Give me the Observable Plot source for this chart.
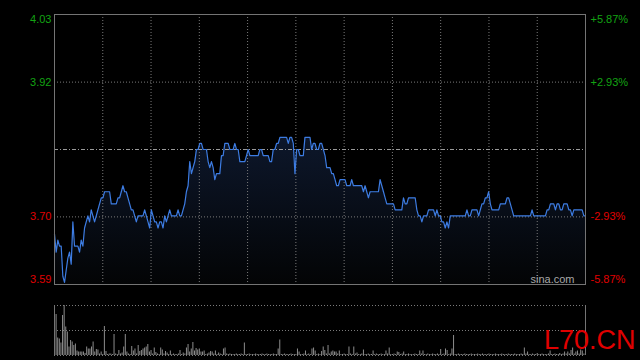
<!DOCTYPE html>
<html><head><meta charset="utf-8">
<script src="https://cdn.jsdelivr.net/npm/d3@7"></script>
<script src="https://cdn.jsdelivr.net/npm/@observablehq/plot@0.6"></script>
<style>
html,body{margin:0;padding:0;background:#000;}
#chart{position:relative;width:640px;height:360px;overflow:hidden;background:#000;font-family:"Liberation Sans",Arial,sans-serif;}
#chart svg{display:block;}
#wm{position:absolute;left:544px;top:327px;font-size:27px;line-height:27px;color:#e00000;white-space:nowrap;font-family:"Liberation Sans",Arial,sans-serif;}
</style></head><body><div id="chart"></div>
<script>
// ---- data ----
const prevClose = 3.81;
const pctTicks = [5.87, 2.93, -2.93, -5.87];
const sessionMinutes = 330;               // HK session 9:30-12:00, 13:00-16:00
const gridMinutes = [30, 60, 90, 120, 150, 180, 210, 240, 270, 300];
const watermarkSite = "sina.com";
const watermarkBrand = "L70.CN";

// prices sampled evenly across the session
const prices = [
3.67,3.64,3.66,3.65,3.65,3.60,3.59,3.61,3.63,3.64,
3.62,3.69,3.65,3.65,3.65,3.64,3.66,3.65,3.68,3.69,
3.70,3.69,3.71,3.70,3.69,3.70,3.71,3.72,3.73,3.73,
3.74,3.74,3.74,3.74,3.72,3.72,3.72,3.72,3.73,3.73,
3.74,3.75,3.74,3.74,3.73,3.72,3.71,3.71,3.70,3.69,
3.70,3.70,3.70,3.70,3.71,3.70,3.69,3.68,3.71,3.70,
3.69,3.69,3.68,3.69,3.69,3.68,3.70,3.69,3.70,3.71,
3.70,3.70,3.70,3.70,3.71,3.70,3.70,3.71,3.72,3.74,
3.75,3.79,3.77,3.78,3.79,3.81,3.81,3.82,3.82,3.81,
3.81,3.81,3.79,3.78,3.79,3.78,3.76,3.77,3.77,3.77,
3.80,3.80,3.82,3.82,3.82,3.81,3.81,3.81,3.82,3.81,
3.81,3.79,3.79,3.79,3.79,3.80,3.81,3.80,3.80,3.80,
3.80,3.80,3.80,3.81,3.81,3.80,3.80,3.80,3.80,3.79,
3.79,3.81,3.81,3.82,3.82,3.83,3.83,3.83,3.83,3.83,
3.82,3.83,3.83,3.82,3.77,3.81,3.81,3.80,3.80,3.80,
3.83,3.83,3.83,3.83,3.81,3.82,3.82,3.81,3.81,3.82,
3.82,3.81,3.80,3.78,3.78,3.78,3.77,3.77,3.76,3.75,
3.75,3.76,3.76,3.76,3.76,3.75,3.75,3.75,3.76,3.75,
3.75,3.75,3.75,3.75,3.75,3.74,3.75,3.74,3.73,3.74,
3.74,3.74,3.74,3.74,3.74,3.76,3.75,3.74,3.73,3.72,
3.72,3.72,3.72,3.72,3.71,3.71,3.71,3.71,3.71,3.73,
3.72,3.72,3.73,3.73,3.73,3.73,3.73,3.71,3.70,3.70,
3.69,3.70,3.70,3.70,3.71,3.71,3.71,3.71,3.70,3.71,
3.70,3.70,3.69,3.69,3.68,3.69,3.68,3.70,3.70,3.70,
3.70,3.70,3.70,3.70,3.70,3.70,3.70,3.71,3.70,3.70,
3.71,3.71,3.71,3.71,3.70,3.71,3.72,3.72,3.73,3.73,
3.74,3.72,3.71,3.71,3.71,3.71,3.71,3.72,3.72,3.72,
3.72,3.73,3.73,3.72,3.71,3.70,3.70,3.70,3.70,3.70,
3.70,3.70,3.70,3.70,3.70,3.70,3.71,3.70,3.70,3.70,
3.70,3.70,3.70,3.70,3.70,3.71,3.71,3.72,3.72,3.72,
3.71,3.72,3.72,3.71,3.71,3.72,3.72,3.72,3.71,3.71,
3.70,3.71,3.71,3.71,3.71,3.71,3.71,3.70,3.70
];

// volume per minute (relative units)
const volumes = [
75,82,35,33,25,80,100,57,47,17,
30,27,20,23,9,7,7,7,7,4,
17,13,13,17,27,7,12,11,3,7,
2,58,8,2,3,3,2,42,3,2,
10,3,5,17,42,7,3,2,18,9,
13,3,20,8,10,13,15,17,22,7,
10,3,15,6,3,2,15,11,3,8,
5,2,9,2,3,2,2,3,10,2,
5,3,15,22,7,13,26,9,14,11,
13,7,7,9,2,3,5,8,7,3,
9,2,5,3,2,13,15,3,2,3,
2,2,2,3,2,2,3,2,25,2,
2,3,2,2,2,3,2,2,2,3,
2,2,3,2,2,2,3,2,2,13,
31,2,2,3,2,2,2,3,2,2,
2,13,7,2,2,3,9,2,3,2,
13,15,9,2,3,2,8,17,10,3,
20,3,7,9,7,7,3,9,2,2,
3,2,2,17,3,2,17,3,5,2,
2,3,11,2,2,3,2,2,9,2,
3,2,2,3,2,2,9,3,15,2,
2,3,2,7,6,2,3,7,2,2,
3,2,2,2,3,2,2,9,3,9,
2,2,3,2,2,3,2,2,3,2,
12,2,3,13,10,2,3,13,40,2,
2,3,2,2,2,3,2,2,2,3,
2,2,2,3,2,2,3,2,2,2,
3,2,2,2,3,2,2,2,3,2,
2,2,3,2,2,2,3,2,2,2,
3,2,15,3,7,2,2,3,2,2,
4,2,2,3,2,2,2,3,9,2,
2,3,2,2,4,2,3,7,3,7,
3,10,15,3,7,9,3,11,9,3,2
];

// ---- chart ----
const FONT = "'Liberation Sans', Arial, sans-serif";
const UP = "#13a313", DOWN = "#e00000";
const maxPct = d3.max(pctTicks);
const yMin = prevClose * (1 - maxPct / 100);
const yMax = prevClose * (1 + maxPct / 100);
const series = prices.map((p, i) => ({t: i * sessionMinutes / (prices.length - 1), p}));
const tickRows = pctTicks.map(pc => ({pc, v: prevClose * (1 + pc / 100)}));
const fmtPrice = d => d.v.toFixed(2);
const fmtPct = d => (d.pc > 0 ? "+" : "") + d.pc.toFixed(2) + "%";
const colorOf = d => d.pc > 0 ? UP : DOWN;
const isTop = d => d.pc === maxPct;
const isBottom = d => d.pc === -maxPct;
const isMid = d => !isTop(d) && !isBottom(d);

const main = Plot.plot({
  width: 640, height: 290,
  marginLeft: 54, marginRight: 55, marginTop: 14, marginBottom: 6,
  x: {domain: [0, sessionMinutes], axis: null},
  y: {domain: [yMin, yMax], axis: null},
  color: {type: "identity"},
  style: {background: "#000", fontFamily: FONT, fontSize: "11px", overflow: "visible"},
  marks: [
    Plot.areaY(series, {x: "t", y1: () => yMin, y2: "p", fill: "url(#areaGrad)"}),
    Plot.ruleX(gridMinutes, {stroke: "#7a7a7a", strokeDasharray: "1,2"}),
    Plot.ruleY(tickRows.filter(isMid), {y: "v", stroke: "#7a7a7a", strokeDasharray: "1,2"}),
    Plot.ruleY([prevClose], {stroke: "#9a9a9a", strokeDasharray: "4,2,1,2"}),
    Plot.lineY(series, {x: "t", y: "p", stroke: "#3d7ce2", strokeWidth: 1.2}),
    Plot.frame({stroke: "#747474"}),
    // left price labels
    Plot.text(tickRows.filter(isTop), {y: "v", text: fmtPrice, fill: colorOf, frameAnchor: "left", textAnchor: "end", lineAnchor: "top", dx: -3, dy: 1}),
    Plot.text(tickRows.filter(isMid), {y: "v", text: fmtPrice, fill: colorOf, frameAnchor: "left", textAnchor: "end", lineAnchor: "middle", dx: -3}),
    Plot.text(tickRows.filter(isBottom), {y: "v", text: fmtPrice, fill: colorOf, frameAnchor: "left", textAnchor: "end", lineAnchor: "bottom", dx: -3, dy: -2}),
    // right percent labels
    Plot.text(tickRows.filter(isTop), {y: "v", text: fmtPct, fill: colorOf, frameAnchor: "right", textAnchor: "start", lineAnchor: "top", dx: 5, dy: 1}),
    Plot.text(tickRows.filter(isMid), {y: "v", text: fmtPct, fill: colorOf, frameAnchor: "right", textAnchor: "start", lineAnchor: "middle", dx: 5}),
    Plot.text(tickRows.filter(isBottom), {y: "v", text: fmtPct, fill: colorOf, frameAnchor: "right", textAnchor: "start", lineAnchor: "bottom", dx: 5, dy: -2}),
    Plot.text([watermarkSite], {text: d => d, frameAnchor: "bottom-right", textAnchor: "end", lineAnchor: "bottom", dx: -11, dy: -1.5, fill: "#a8a8a8"})
  ]
});
d3.select(main).insert("defs", ":first-child").html(
  '<linearGradient id="areaGrad" x1="0" y1="0" x2="0" y2="1">' +
  '<stop offset="0" stop-color="#0d172b"/><stop offset="1" stop-color="#030405"/></linearGradient>');

const volRows = volumes.map((v, i) => ({t: i, v}));
const vMax = d3.max(volumes);
const volume = Plot.plot({
  width: 640, height: 70,
  marginLeft: 54, marginRight: 55, marginTop: 15, marginBottom: 5,
  x: {domain: [0, volumes.length - 1], axis: null},
  y: {domain: [0, vMax], axis: null},
  style: {background: "#000", fontFamily: FONT, fontSize: "11px"},
  marks: [
    Plot.ruleY([0, vMax / 2, vMax], {stroke: "#7a7a7a", strokeDasharray: "1,2"}),
    Plot.ruleX(volRows, {x: "t", y1: () => 0, y2: "v", stroke: "#8c8c8c"}),
    Plot.ruleX([0, volumes.length - 1], {stroke: "#747474"})
  ]
});

const root = document.getElementById("chart");
root.appendChild(main);
root.appendChild(volume);
const wm = document.createElement("div");
wm.id = "wm";
wm.textContent = watermarkBrand;
root.appendChild(wm);
</script></body></html>
